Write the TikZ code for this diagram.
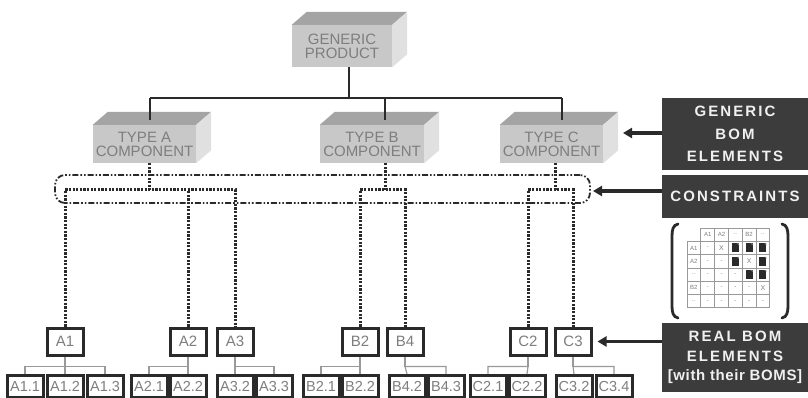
\documentclass[tikz,border=0pt]{standalone}
\usepackage{fontspec}
\setmainfont{Liberation Sans}
\newfontfamily\widefont[LetterSpace=14]{Liberation Sans}
\newfontfamily\midfont[LetterSpace=4]{Liberation Sans}
\usetikzlibrary{arrows.meta}
\definecolor{topc}{HTML}{A4A4A4}
\definecolor{frontc}{HTML}{C8C8C8}
\definecolor{sidec}{HTML}{E0E0E0}
\definecolor{boxtxt}{HTML}{7E7E7E}
\definecolor{ink}{HTML}{2A2A2A}
\definecolor{panel}{HTML}{3C3C3C}
\definecolor{thin}{HTML}{999999}
\tikzset{
  front/.style={fill=frontc, text=boxtxt, align=center, inner sep=0pt,
    minimum height=38pt, font=\fontsize{15}{14}\selectfont},
  topface/.style={fill=topc},
  sideface/.style={fill=sidec},
  stem/.style={draw=ink, line width=2.8pt},
  dotline/.style={draw=ink, line width=3pt, dash pattern=on 2.2pt off 1.4pt},
  dashdotbox/.style={draw=ink, line width=1.8pt,
    dash pattern=on 6pt off 2pt on 1.6pt off 2pt on 1.6pt off 2pt, rounded corners=10pt},
  realbox/.style={draw=ink, line width=3pt, fill=white, text=boxtxt, inner sep=0pt,
    minimum width=36pt, minimum height=27pt, font=\fontsize{15}{15}\selectfont},
  subbox/.style={realbox, minimum width=36pt, minimum height=22pt, font=\fontsize{14.5}{14.5}\selectfont},
  subline/.style={draw=thin, line width=1.2pt},
  panelbox/.style={fill=panel, text=white!94!black, align=center, inner sep=0pt,
    minimum width=146pt, font=\widefont\bfseries\fontsize{15}{22.5}\selectfont},
  bigarrow/.style={draw=ink, line width=3.2pt, -{Triangle[length=9pt,width=10pt]}},
  gridc/.style={draw=thin, line width=0.7pt},
  celltxt/.style={text=boxtxt, font=\fontsize{6}{6}\selectfont, inner sep=0pt},
  bracket/.style={draw=ink, line width=2.8pt, line cap=round}
}
\newcommand{\cubefaces}[1]{%
  \fill[topface] (#1.north west) -- ++(15,-13) -- ([shift={(15,-13)}]#1.north east) -- (#1.north east) -- cycle;
  \fill[sideface] (#1.north east) -- ++(15,-13) -- ([shift={(15,-13)}]#1.south east) -- (#1.south east) -- cycle;
}
\begin{document}
\begin{tikzpicture}[x=1pt,y=-1pt]
\useasboundingbox[fill=white] (0,0) rectangle (808,398);

% ---------- 3D boxes ----------
\node[front, minimum width=100pt, minimum height=42pt] (prod) at (342,46) {GENERIC\\PRODUCT};
\cubefaces{prod}
\node[front, minimum width=103pt] (ta) at (144.5,144) {TYPE A\\COMPONENT};
\cubefaces{ta}
\node[front, minimum width=104pt] (tb) at (372,144) {TYPE B\\COMPONENT};
\cubefaces{tb}
\node[front, minimum width=103pt] (tc) at (551.5,144) {TYPE C\\COMPONENT};
\cubefaces{tc}

% ---------- top tree ----------
\coordinate (pj) at (349,98);
\coordinate (ja) at (150,98);
\coordinate (jb) at (385,98);
\coordinate (jc) at (562,98);
\draw[stem] (prod.south -| pj) -- (pj);
\draw[stem] (ja) -- (jc);
\draw[stem] (ja) -- ([yshift=5pt]ja |- ta.north);
\draw[stem] (jb) -- ([yshift=5pt]jb |- tb.north);
\draw[stem] (jc) -- ([yshift=5pt]jc |- tc.north);

% ---------- constraints band ----------
\node[dashdotbox, minimum width=535pt, minimum height=28pt] (cband) at (322.5,189) {};

% ---------- real BOM elements ----------
\foreach \n/\x in {A1/65, A2/188, A3/235, B2/360, B4/405, C2/528, C3/573}
  \node[realbox] (\n) at (\x,341.5) {\n};

\foreach \n/\l/\x in {a11/A1.1/25, a12/A1.2/65, a13/A1.3/105, a21/A2.1/149, a22/A2.2/188,
    a32/A3.2/235, a33/A3.3/274, b21/B2.1/321, b22/B2.2/360, b42/B4.2/407, b43/B4.3/446,
    c21/C2.1/488, c22/C2.2/527, c32/C3.2/574, c34/C3.4/614}
  \node[subbox] (\n) at (\x,386.5) {\l};

% sub-BOM connectors
\draw[subline] (A1.south) -- ++(0,10) coordinate (s1);
\draw[subline] (a11.north) |- (s1) -| (a13.north);
\draw[subline] (a12.north) -- (s1);
\draw[subline] (A2.south) -- ++(0,10) coordinate (s2);
\draw[subline] (a21.north) |- (s2) -- (a22.north);
\draw[subline] (A3.south) -- ++(0,10) coordinate (s3);
\draw[subline] (a32.north) -- (s3) -| (a33.north);
\draw[subline] (B2.south) -- ++(0,10) coordinate (s4);
\draw[subline] (b21.north) |- (s4) -- (b22.north);
\draw[subline] (B4.south) -- ++(0,10) coordinate (s5);
\draw[subline] (b42.north) -- (s5) -| (b43.north);
\draw[subline] (C2.south) -- ++(0,10) coordinate (s6);
\draw[subline] (c21.north) |- (s6) -- (c22.north);
\draw[subline] (C3.south) -- ++(0,10) coordinate (s7);
\draw[subline] (c32.north) -- (s7) -| (c34.north);

% ---------- dotted links ----------
\coordinate (da) at (149,190);
\coordinate (db) at (385,190);
\coordinate (dc) at (555,190);
\draw[dotline] (ta.south -| da) -- (da);
\draw[dotline] (A1.north) -- (A1.north |- da) -- (A3.north |- da) -- (A3.north);
\draw[dotline] (A2.north) -- (A2.north |- da);
\draw[dotline] (tb.south -| db) -- (db);
\draw[dotline] (B2.north) -- (B2.north |- db) -- (B4.north |- db) -- (B4.north);
\draw[dotline] (tc.south -| dc) -- (dc);
\draw[dotline] (C2.north) -- (C2.north |- dc) -- (C3.north |- dc) -- (C3.north);

% ---------- right panel ----------
\node[panelbox, minimum height=72pt] (gbom) at (735,134) {GENERIC\\BOM\\ELEMENTS};
\node[panelbox, minimum height=43pt] (cons) at (735,196.5) {CONSTRAINTS};
\node[panelbox, minimum height=69pt, font=\widefont\bfseries\fontsize{15}{19.5}\selectfont] (rbom) at (735,357.5)
  {REAL BOM\\ELEMENTS\\{\midfont [with their BOMS]}};

\coordinate (gtip) at (623,133);
\coordinate (ctip) at (593,191);
\draw[bigarrow] (gbom.west |- gtip) -- (gtip);
\draw[bigarrow] (cons.west |- ctip) -- (ctip);
\draw[bigarrow] (rbom.west |- C3.east) -- ([xshift=5pt]C3.east);

% ---------- constraint matrix ----------
\foreach \r in {0,...,5}{
  \foreach \c in {0,...,5}{
    \pgfmathtruncatemacro{\skip}{(\r==0 && \c==0) ? 1 : 0}
    \ifnum\skip=0
      \draw[gridc] ({687+\c*13.8},{228+\r*13.3}) rectangle ++(13.8,13.3);
    \fi
  }
}
\foreach \t [count=\c from 1] in {A1,A2,..,B2,..}
  \node[celltxt] (h\c) at ({687+\c*13.8+6.9},{228+6.65}) {\t};
\foreach \t [count=\r from 1] in {A1,A2,..,B2,..}
  \node[celltxt] (v\r) at ({687+6.9},{228+\r*13.3+6.65}) {\t};
% cell entries: 0 = '-', 1 = 'X', 2 = icon
\foreach \r/\vals in {1/{0,1,2,2,2}, 2/{0,0,2,1,2}, 3/{0,0,0,2,2}, 4/{0,0,0,0,1}, 5/{0,0,0,0,0}}{
  \foreach \v [count=\c from 1] in \vals {
    \coordinate (m) at ({687+\c*13.8+6.9},{228+\r*13.3+6.65});
    \ifcase\v
      \node[celltxt] (m\r\c) at (m) {-};
    \or
      \node[celltxt, font=\fontsize{7}{7}\selectfont] (m\r\c) at (m) {X};
    \or
      \fill[ink] ([shift={(-3.5,-4.5)}]m) rectangle ([shift={(3.5,4.5)}]m);
      \fill[gray] ([shift={(1.5,-4.5)}]m) -- ([shift={(3.5,-4.5)}]m) -- ([shift={(3.5,-2.5)}]m) -- cycle;
    \fi
  }
}
\draw[bracket] (678,224) .. controls (673,225) and (672,230) .. (672,236) -- (672,306) .. controls (672,312) and (673,317) .. (678,318);
\draw[bracket] (782,224) .. controls (787,225) and (788,230) .. (788,236) -- (788,306) .. controls (788,312) and (787,317) .. (782,318);
\end{tikzpicture}
\end{document}
